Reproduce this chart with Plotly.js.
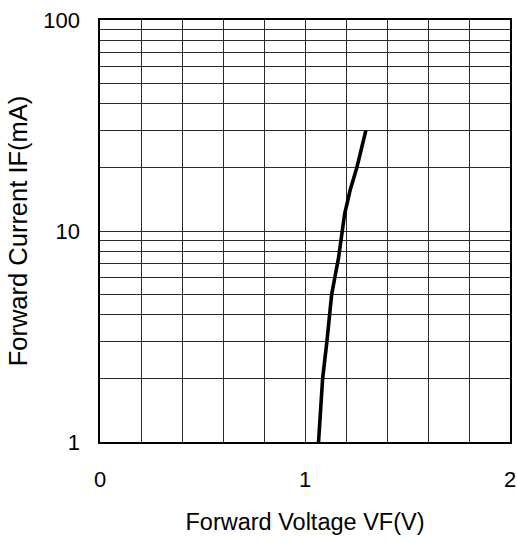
<!DOCTYPE html>
<html>
<head>
<meta charset="utf-8">
<script src="https://cdn.plot.ly/plotly-3.0.1.min.js"></script>
<style>
html,body{margin:0;padding:0;background:#fff;}
#chart{width:517px;height:542px;}
</style>
</head>
<body>
<div id="chart"></div>
<script>
// Forward voltage (V) vs forward current (mA)
const forwardVoltage = [1.066, 1.086, 1.107, 1.130, 1.164, 1.193, 1.220, 1.253, 1.297];
const forwardCurrent = [1, 2, 3, 5, 7.5, 12, 15.6, 20, 30];

// Axis ticks
const xTickVals = [0, 1, 2];
const xTickText = ["0", "1", "2"];
const yGridVals = [1,2,3,4,5,6,7,8,9,10,20,30,40,50,60,70,80,90,100];
const yLabelVals = [1, 10, 100];

const yTickText = yGridVals.map(v => yLabelVals.includes(v) ? String(v) : "");

const FONT = "Liberation Sans, Arial, sans-serif";
const GRID = "#2a2a2a";

const data = [{
  x: forwardVoltage,
  y: forwardCurrent,
  type: "scatter",
  mode: "lines",
  line: {color: "#000", width: 3.6},
  hoverinfo: "skip",
  showlegend: false
}];

const layout = {
  width: 517,
  height: 542,
  margin: {l: 100, r: 7, t: 20, b: 100, pad: 0},
  paper_bgcolor: "#fff",
  plot_bgcolor: "#fff",
  font: {family: FONT, color: "#000"},
  showlegend: false,
  xaxis: {
    range: [0, 2],
    tickvals: xTickVals,
    ticktext: xTickText,
    ticks: "",
    ticklabelstandoff: 17,
    tickfont: {size: 22, family: FONT, color: "#000"},
    showgrid: true,
    gridcolor: GRID,
    gridwidth: 1,
    minor: {dtick: 0.2, showgrid: true, gridcolor: GRID, gridwidth: 1, ticks: ""},
    zeroline: false,
    showline: true,
    linecolor: "#000",
    linewidth: 1.6,
    mirror: true,
    fixedrange: true,
    title: {text: "Forward Voltage VF(V)", font: {size: 23.5, family: FONT, color: "#000"}, standoff: 22}
  },
  yaxis: {
    type: "log",
    range: [0, 2],
    tickvals: yGridVals,
    ticktext: yTickText,
    ticks: "",
    ticklabelstandoff: 14,
    tickfont: {size: 22, family: FONT, color: "#000"},
    showgrid: true,
    gridcolor: GRID,
    gridwidth: 1,
    zeroline: false,
    showline: true,
    linecolor: "#000",
    linewidth: 1.6,
    mirror: true,
    fixedrange: true,
    title: {text: "Forward Current IF(mA)", font: {size: 25.5, family: FONT, color: "#000"}, standoff: 8}
  }
};

Plotly.newPlot("chart", data, layout, {staticPlot: true, displayModeBar: false});
</script>
</body>
</html>
